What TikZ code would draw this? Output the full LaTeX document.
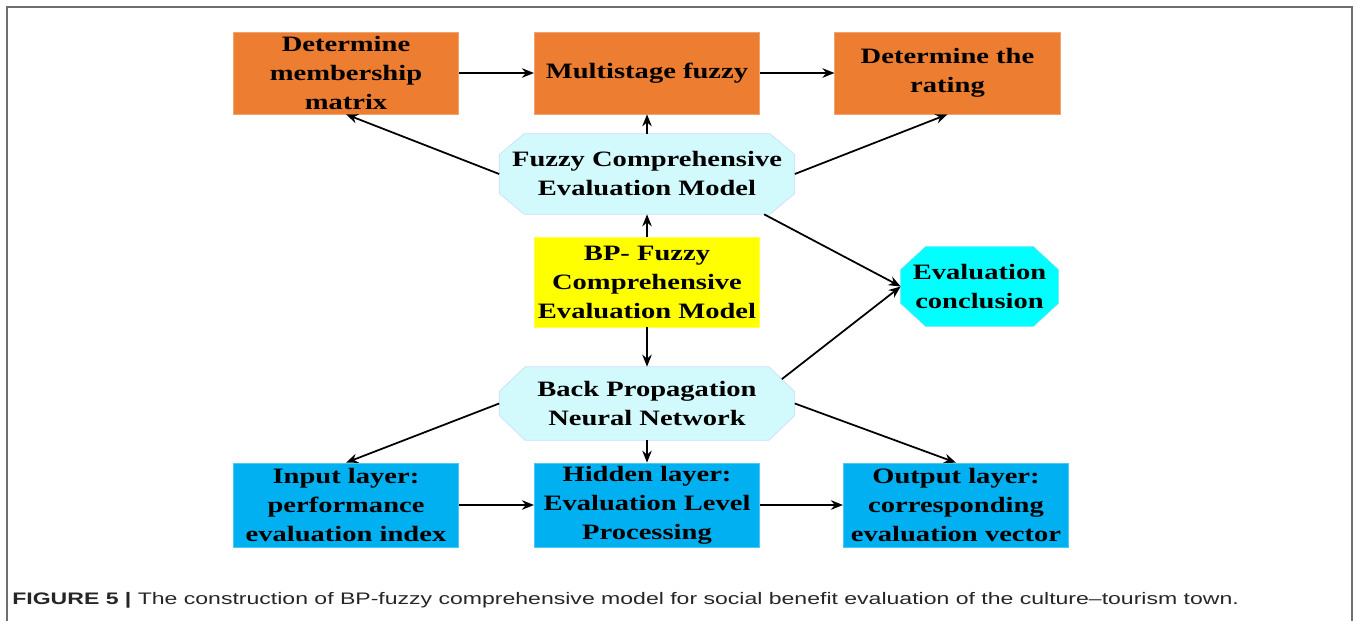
\documentclass[tikz,border=0pt]{standalone}
\usepackage{fontspec}
\setmainfont{Liberation Serif}
\newfontfamily\boxfont[FakeStretch=1.3]{Liberation Serif}
\newfontfamily\capfont[FakeStretch=1.38]{Liberation Sans}
\usetikzlibrary{arrows.meta,backgrounds}
\definecolor{orangebox}{HTML}{ED7D31}
\definecolor{bluebox}{HTML}{00B0F0}
\definecolor{yellowbox}{HTML}{FFFF00}
\definecolor{paleoct}{HTML}{D2FAFC}
\definecolor{cyanoct}{HTML}{00FFFF}
\definecolor{framegray}{HTML}{6E6E6E}

\def\px{0.02cm}
% node name, x cut, y cut
\newcommand\octpath[3]{([xshift=#2]#1.north west) -- ([xshift=-#2]#1.north east)
  -- coordinate[pos=.5] (#1-ne) ([yshift=-#3]#1.north east) -- ([yshift=#3]#1.south east)
  -- ([xshift=-#2]#1.south east) -- ([xshift=#2]#1.south west)
  -- ([yshift=#3]#1.south west) -- ([yshift=-#3]#1.north west) -- cycle}

\begin{document}
\begin{tikzpicture}[x=\px, y=-\px,
    every node/.style={align=center, inner sep=0pt, text=black,
      font=\boxfont\bfseries\fontsize{12.5}{16.5}\selectfont},
    stagebox/.style={rectangle, fill=#1, draw=#1!70!white, line width=0.4pt,
      minimum width=4.51cm, minimum height=1.64cm},
    octfill/.style={fill=#1, draw=#1!80!blue!60!white, line width=0.4pt},
    conn/.style={-{Stealth[length=2.4mm,width=1.9mm]}, line width=1pt, black}]
  \useasboundingbox (0,0) rectangle (1358,621);
  \draw[framegray, line width=0.9pt] (7,621) -- (7,7) -- (1352,7) -- (1352,621);

  \node[stagebox=orangebox] (mem) at (346,73) {Determine\\membership\\matrix};
  \node[stagebox=orangebox] (msf) at (647,73) {Multistage fuzzy};
  \node[stagebox=orangebox] (rate) at (947.5,73) {Determine the\\rating};

  \node[minimum width=5.9cm, minimum height=1.6cm] (fce) at (647,174) {Fuzzy Comprehensive\\Evaluation Model};
  \node[stagebox=yellowbox, minimum height=1.8cm] (bpf) at (647,282) {BP- Fuzzy\\Comprehensive\\Evaluation Model};
  \node[minimum width=3.14cm, minimum height=1.58cm] (ec) at (979.5,286.5) {Evaluation\\conclusion};
  \node[minimum width=5.9cm, minimum height=1.46cm] (bpn) at (647,403.5) {Back Propagation\\Neural Network};

  \node[stagebox=bluebox, minimum height=1.68cm] (inp) at (346,505) {Input layer:\\performance\\evaluation index};
  \node[stagebox=bluebox, minimum height=1.68cm] (hid) at (647,505) {Hidden layer:\\Evaluation Level\\Processing};
  \node[stagebox=bluebox, minimum height=1.68cm] (out) at (956,505) {Output layer:\\corresponding\\evaluation vector};

  \begin{scope}[on background layer]
    \path[octfill=paleoct] \octpath{fce}{0.5cm}{0.42cm};
    \path[octfill=cyanoct] \octpath{ec}{0.5cm}{0.46cm};
    \path[octfill=paleoct] \octpath{bpn}{0.52cm}{0.5cm};
  \end{scope}

  \draw[conn] (mem) -- (msf);
  \draw[conn] (msf) -- (rate);
  \draw[conn] (fce.north) -- (msf.south);
  \draw[conn] (fce.west) -- (mem.south);
  \draw[conn] (fce.east) -- (rate.south);
  \draw[conn] (bpf.north) -- (fce.south);
  \draw[conn] (fce.-19) -- (ec.west);
  \draw[conn] (bpf.south) -- (bpn.north);
  \draw[conn] (bpn-ne) -- (ec.west);
  \draw[conn] (bpn.west) -- (inp.north);
  \draw[conn] (bpn.south) -- (hid.north);
  \draw[conn] (bpn.east) -- (out.north);
  \draw[conn] (inp) -- (hid);
  \draw[conn] (hid) -- (out);

  \node[anchor=west, font=\capfont\fontsize{9.5}{11}\selectfont, text=black!85] (cap) at (12,600)
    {\textbf{FIGURE 5 |} The construction of BP-fuzzy comprehensive model for social benefit evaluation of the culture–tourism town.};
\end{tikzpicture}
\end{document}
